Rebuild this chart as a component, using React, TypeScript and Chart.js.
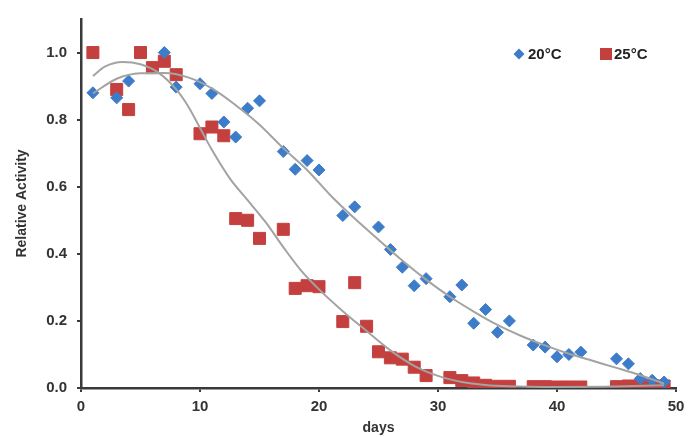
import React, { useEffect, useRef } from 'react';
import { Chart, registerables } from 'chart.js';

Chart.register(...registerables);

// ---- data ----
const days20 = [1, 3, 4, 7, 8, 10, 11, 12, 13, 14, 15, 17, 18, 19, 20, 22, 23, 25, 26, 27, 28, 29, 31, 32, 33, 34, 35, 36, 38, 39, 40, 41, 42, 45, 46, 47, 48, 49];
const activity20 = [0.88, 0.865, 0.915, 1.0, 0.897, 0.907, 0.878, 0.793, 0.748, 0.834, 0.856, 0.705, 0.652, 0.678, 0.65, 0.514, 0.54, 0.48, 0.413, 0.36, 0.305, 0.326, 0.272, 0.307, 0.193, 0.234, 0.166, 0.2, 0.128, 0.122, 0.093, 0.1, 0.107, 0.087, 0.072, 0.028, 0.023, 0.018];

const days25 = [1, 3, 4, 5, 6, 7, 8, 10, 11, 12, 13, 14, 15, 17, 18, 19, 20, 22, 23, 24, 25, 26, 27, 28, 29, 31, 32, 33, 34, 35, 36, 38, 39, 40, 41, 42, 45, 46, 47, 48, 49];
const activity25 = [1.0, 0.89, 0.83, 1.0, 0.955, 0.974, 0.934, 0.758, 0.778, 0.752, 0.505, 0.5, 0.446, 0.473, 0.297, 0.305, 0.302, 0.198, 0.314, 0.184, 0.108, 0.09, 0.086, 0.062, 0.037, 0.031, 0.022, 0.015, 0.008, 0.005, 0.005, 0.004, 0.004, 0.003, 0.003, 0.003, 0.004, 0.006, 0.007, 0.007, 0.006];

// trend lines
const trendDays20 = [1, 3, 5, 7, 9, 11, 13, 15, 17, 19, 21, 23, 25, 27, 29, 31, 33, 35, 37, 39, 41, 43, 45, 47, 49];
const trendVals20 = [0.878, 0.922, 0.938, 0.939, 0.926, 0.893, 0.843, 0.785, 0.715, 0.65, 0.573, 0.505, 0.442, 0.38, 0.323, 0.272, 0.228, 0.188, 0.155, 0.127, 0.102, 0.081, 0.06, 0.038, 0.013];

const trendDays25 = [1, 2, 3.5, 5, 6.5, 8, 9, 10, 11, 12.5, 14, 15.5, 17, 18.5, 20, 22, 24, 26, 28, 30, 32, 34, 36, 40, 44, 49];
const trendVals25 = [0.93, 0.958, 0.972, 0.965, 0.94, 0.89, 0.84, 0.775, 0.71, 0.625, 0.56, 0.495, 0.42, 0.35, 0.294, 0.229, 0.17, 0.112, 0.066, 0.036, 0.018, 0.009, 0.005, 0.003, 0.004, 0.008];

const seriesLabels = ['20°C', '25°C'];
const xTicks = [0, 10, 20, 30, 40, 50];
const yTicks = [0, 0.2, 0.4, 0.6, 0.8, 1.0];
const xTitle = 'days';
const yTitle = 'Relative Activity';

const BLUE = '#3d7cc9';
const RED = '#c4403f';
const TREND = '#a3a3a3';
const AXIS = '#3a3a3a';
const TEXT = '#333333';
const FONT = 'Arial, "Liberation Sans", Helvetica, sans-serif';

const toPts = (xs: number[], ys: number[]) => xs.map((x, i) => ({ x, y: ys[i] }));

const legendPlugin = {
  id: 'insideLegend',
  afterDraw(chart: any) {
    const { ctx, chartArea } = chart;
    const cy = chartArea.top + 35;
    const x0 = chartArea.right - 157;
    ctx.save();
    // diamond
    ctx.fillStyle = BLUE;
    ctx.beginPath();
    ctx.moveTo(x0, cy - 5.5);
    ctx.lineTo(x0 + 5.5, cy);
    ctx.lineTo(x0, cy + 5.5);
    ctx.lineTo(x0 - 5.5, cy);
    ctx.closePath();
    ctx.fill();
    ctx.font = `bold 15px ${FONT}`;
    ctx.fillStyle = '#222';
    ctx.textBaseline = 'middle';
    ctx.textAlign = 'left';
    ctx.fillText(seriesLabels[0], x0 + 9, cy + 1);
    // square
    const sx = x0 + 81;
    ctx.fillStyle = RED;
    ctx.fillRect(sx, cy - 6, 12, 12);
    ctx.fillStyle = '#222';
    ctx.fillText(seriesLabels[1], sx + 14, cy + 1);
    ctx.restore();
  },
};

export default function App() {
  const ref = useRef<HTMLCanvasElement>(null);
  useEffect(() => {
    document.body.style.margin = '0';
    Chart.defaults.font.family = FONT;
    const chart = new Chart(ref.current as HTMLCanvasElement, {
      type: 'scatter',
      data: {
        datasets: [
          {
            label: 'trend20',
            data: toPts(trendDays20, trendVals20),
            showLine: true,
            borderColor: TREND,
            borderWidth: 2,
            pointRadius: 0,
            cubicInterpolationMode: 'monotone',
            order: 0,
          } as any,
          {
            label: 'trend25',
            data: toPts(trendDays25, trendVals25),
            showLine: true,
            borderColor: TREND,
            borderWidth: 2,
            pointRadius: 0,
            cubicInterpolationMode: 'monotone',
            order: 0,
          } as any,
          {
            label: seriesLabels[1],
            data: toPts(days25, activity25),
            pointStyle: 'rect',
            pointRadius: 8.5,
            backgroundColor: RED,
            borderColor: RED,
            borderWidth: 1,
            order: 2,
          },
          {
            label: seriesLabels[0],
            data: toPts(days20, activity20),
            pointStyle: 'rectRot',
            pointRadius: 6,
            backgroundColor: BLUE,
            borderColor: BLUE,
            borderWidth: 1,
            order: 1,
          },
        ],
      },
      options: {
        responsive: false,
        animation: false,
        devicePixelRatio: 1,
        layout: { padding: { left: 0, right: 18, top: 14, bottom: 0 } },
        plugins: {
          legend: { display: false },
          tooltip: { enabled: false },
        },
        scales: {
          x: {
            type: 'linear',
            min: 0,
            max: 50,
            afterBuildTicks: (s: any) => {
              s.ticks = xTicks.map((v) => ({ value: v }));
            },
            afterFit: (s: any) => {
              s.height = 49;
            },
            ticks: {
              color: TEXT,
              padding: 6,
              maxRotation: 0,
              font: { size: 15, weight: 'bold' },
            },
            grid: {
              display: true,
              drawOnChartArea: false,
              drawTicks: true,
              tickLength: 4,
              color: AXIS,
              lineWidth: 2,
            },
            border: { display: true, color: AXIS, width: 2.5 },
            title: {
              display: true,
              text: xTitle,
              color: TEXT,
              font: { size: 14, weight: 'bold' },
              padding: { top: 0, bottom: 0 },
            },
          },
          y: {
            type: 'linear',
            min: 0,
            max: 1.1,
            afterBuildTicks: (s: any) => {
              s.ticks = yTicks.map((v) => ({ value: v }));
            },
            afterFit: (s: any) => {
              s.width = 81;
            },
            ticks: {
              color: TEXT,
              padding: 10,
              font: { size: 15, weight: 'bold' },
              callback: (v: any) => Number(v).toFixed(1),
            },
            grid: {
              display: true,
              drawOnChartArea: false,
              drawTicks: true,
              tickLength: 4,
              color: AXIS,
              lineWidth: 2,
            },
            border: { display: true, color: AXIS, width: 2.5 },
            title: {
              display: true,
              text: yTitle,
              color: TEXT,
              font: { size: 14, weight: 'bold' },
              padding: { top: 14, bottom: 0 },
            },
          },
        },
      },
      plugins: [legendPlugin],
    });
    return () => chart.destroy();
  }, []);
  return (
    <canvas
      ref={ref}
      width={694}
      height={437}
      style={{ display: 'block', width: 694, height: 437 }}
    />
  );
}
